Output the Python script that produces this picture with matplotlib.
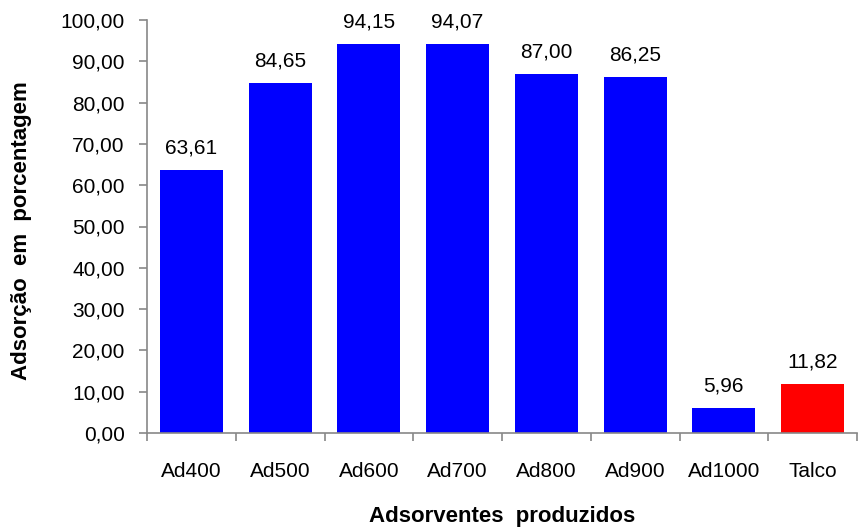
import matplotlib
matplotlib.use('Agg')
import matplotlib.pyplot as plt

categories = ['Ad400', 'Ad500', 'Ad600', 'Ad700', 'Ad800', 'Ad900', 'Ad1000', 'Talco']
values = [63.61, 84.65, 94.15, 94.07, 87.00, 86.25, 5.96, 11.82]
colors = ['#0000FF'] * 7 + ['#FF0000']
yticks = list(range(0, 101, 10))

plt.rcParams['font.family'] = ['Liberation Sans', 'DejaVu Sans']

fig = plt.figure(figsize=(8.58, 5.30), dpi=100)
ax = fig.add_axes([147 / 858, 1 - 433 / 530, 710 / 858, 413 / 530])

x = list(range(len(categories)))
ax.bar(x, values, width=0.71, color=colors)

for xi, v in zip(x, values):
    label = f'{v:.2f}'.replace('.', ',')
    ax.annotate(label, (xi, v), xytext=(0, 9), textcoords='offset points',
                ha='center', va='bottom', fontsize=15)

ax.set_xlim(-0.5, len(categories) - 0.5)
ax.set_ylim(0, 100)
ax.set_yticks(yticks)
ax.set_yticklabels([f'{t:.2f}'.replace('.', ',') for t in yticks], fontsize=15)
ax.set_xticks(x)
ax.set_xticklabels(categories, fontsize=15)
ax.tick_params(axis='x', length=0, pad=21)
# category boundary ticks
ax.set_xticks([i - 0.5 for i in range(len(categories) + 1)], minor=True)
ax.tick_params(axis='x', which='minor', length=6, color='#888888', width=1.2)
ax.tick_params(axis='y', length=6, color='#888888', width=1.2, pad=10)

for side in ['top', 'right']:
    ax.spines[side].set_visible(False)
for side in ['left', 'bottom']:
    ax.spines[side].set_color('#888888')
    ax.spines[side].set_linewidth(1.2)

ax.set_xlabel('Adsorventes  produzidos', fontsize=16, fontweight='bold')
ax.set_ylabel('Adsorção  em  porcentagem', fontsize=16, fontweight='bold')
ax.xaxis.set_label_coords(0.5, -73 / 413)
ax.yaxis.set_label_coords(-115 / 710, 0.49)

plt.savefig('out.png', dpi=100)
plt.close()
